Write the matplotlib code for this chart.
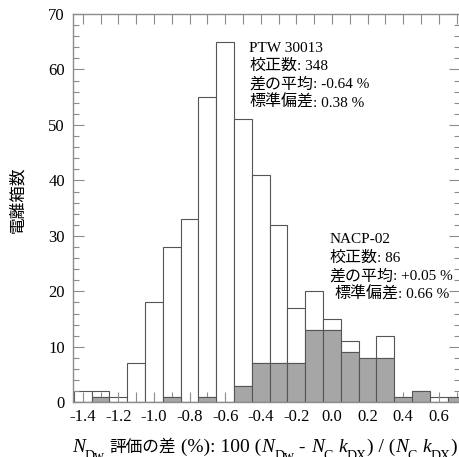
#!/usr/bin/env python3
"""Histogram of N_Dw evaluation differences for two ion chamber types."""

import matplotlib

matplotlib.use("Agg")

import matplotlib.pyplot as plt
import numpy as np
from matplotlib.ticker import FuncFormatter, MultipleLocator
from matplotlib.transforms import IdentityTransform

# bin centres (%), counts per bin
bin_centers = np.round(np.arange(-1.4, 0.75, 0.1), 2)
nacp_counts = [0, 1, 0, 0, 0, 1, 0, 1, 0, 3, 7, 7, 7, 13, 13, 9, 8, 8, 1, 2, 0, 1]
ptw_counts = [2, 1, 1, 7, 18, 27, 33, 54, 65, 48, 34, 25, 10, 7, 2, 2, 0, 4, 0, 0, 1, 0]

# (japanese part, value part) per annotation line
ptw_lines = [("", "PTW 30013"), ("校正数", ": 348"), ("差の平均", ": -0.64 %"), ("標準偏差", ": 0.38 %")]
nacp_lines = [("", "NACP-02"), ("校正数", ": 86"), ("差の平均", ": +0.05 %"), ("標準偏差", ": 0.66 %")]

SERIF = "Liberation Serif"
CJK = "Noto Sans CJK JP"
EDGE = "#555555"
SPINE = "#8c8c8c"

W, H = 460, 457
fig = plt.figure(figsize=(W / 100, H / 100), dpi=100)
ax = fig.add_axes([73.3 / W, 54.7 / H, (460.5 - 73.3) / W, (443 - 54.7) / H])
renderer = fig.canvas.get_renderer()


def place(x, y, parts, size=11, sub_size=9, sub_drop=9, cjk_size=11.5):
    """Write text pieces one after another from pixel (x, y) on the baseline."""
    for s, kind in parts:
        kw = dict(family=SERIF, fontsize=size, va="baseline", ha="left", transform=IdentityTransform())
        yy = y
        if kind == "it":
            kw["style"] = "italic"
        elif kind == "sub":
            kw["fontsize"] = sub_size
            yy = y - sub_drop
        elif kind == "cjk":
            kw["family"] = CJK
            kw["fontsize"] = cjk_size
        t = fig.text(x, yy, s, **kw)
        x += t.get_window_extent(renderer).width
    return x


ax.bar(bin_centers, nacp_counts, width=0.1, color="#a6a6a6", edgecolor=EDGE, linewidth=0.8, zorder=2)
ax.bar(bin_centers, ptw_counts, width=0.1, bottom=nacp_counts, color="white", edgecolor=EDGE,
       linewidth=0.8, zorder=1)

ax.set_xlim(-1.453, 0.722)
ax.set_ylim(0, 70)

ax.xaxis.set_major_locator(MultipleLocator(0.2))
ax.xaxis.set_minor_locator(MultipleLocator(0.1))
ax.xaxis.set_major_formatter(FuncFormatter(lambda v, _: f"{v:.1f}".replace("-0.0", "0.0")))
ax.yaxis.set_major_locator(MultipleLocator(10))
ax.yaxis.set_minor_locator(MultipleLocator(2))

ax.tick_params(axis="both", which="both", direction="in", top=True, right=True, color=SPINE, width=0.8)
ax.tick_params(axis="x", which="both", length=7.2, pad=5)
ax.tick_params(axis="y", which="major", length=8, pad=6)
ax.tick_params(axis="y", which="minor", length=4.3)
for lab in ax.get_xticklabels() + ax.get_yticklabels():
    lab.set_fontfamily(SERIF)
    lab.set_fontsize(12)
for sp in ax.spines.values():
    sp.set_color(SPINE)
    sp.set_linewidth(1.0)


def annotate_block(x_data, y_data, lines, indent_last=0):
    x0, y0 = ax.transData.transform((x_data, y_data))
    for i, (jp, val) in enumerate(lines):
        parts = [(jp, "cjk"), (val, "rm")] if jp else [(val, "rm")]
        dx = indent_last if i == len(lines) - 1 else 0
        place(x0 + dx, y0 - i * 18.3, parts)


# baselines of the first lines: PTW at y≈52 px, NACP at y≈244 px from the top
annotate_block(-0.465, (402.3 - 51.7) / 5.547, ptw_lines)
annotate_block(-0.016, (402.3 - 243.5) / 5.547, nacp_lines, indent_last=5)

fig.text(18 / W, 1 - 200 / H, "電離箱数", family=CJK, fontsize=12, rotation=90,
         ha="center", va="center")

# x label: italic symbols with roman subscripts
xlabel_parts = [
    ("N", "it"), ("Dw", "sub"), (" ", "rm"), ("評価の差", "cjk"), (" (%): 100 (", "rm"),
    ("N", "it"), ("Dw", "sub"), (" - ", "rm"), ("N", "it"), ("C", "sub"), (" ", "rm"),
    ("k", "it"), ("DX", "sub"), (") / (", "rm"), ("N", "it"), ("C", "sub"), (" ", "rm"),
    ("k", "it"), ("DX", "sub"), (")", "rm"),
]
place(72.0, H - 451.7, xlabel_parts, size=14, sub_size=10, sub_drop=8, cjk_size=12)

fig.savefig("out.png", dpi=100)
